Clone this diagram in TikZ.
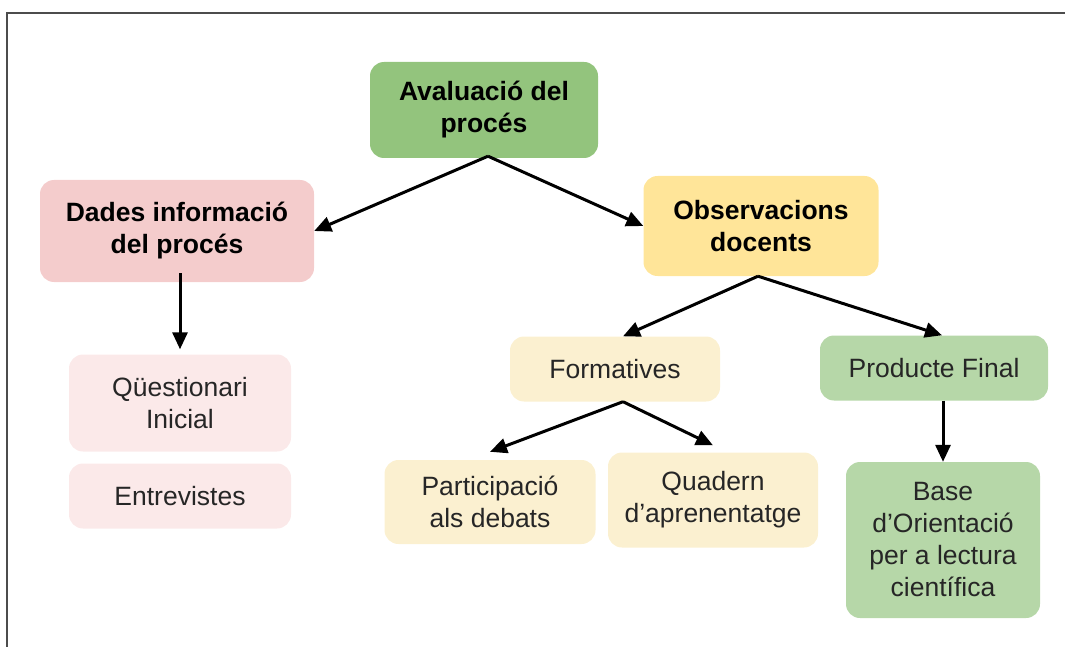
\documentclass[tikz,border=0pt]{standalone}
\usepackage{fontspec}
\setmainfont{Liberation Sans}
\usepackage{tikz}
\usetikzlibrary{arrows.meta}

\definecolor{verd}{HTML}{93C47D}
\definecolor{verdclar}{HTML}{B6D7A8}
\definecolor{rosa}{HTML}{F4CCCC}
\definecolor{rosaclar}{HTML}{FBE9E9}
\definecolor{groc}{HTML}{FFE599}
\definecolor{grocclar}{HTML}{FBF0D0}

\begin{document}
\begin{tikzpicture}[x=1pt, y=-1pt]

\tikzstyle{every node} = [rectangle, rounded corners=14pt, align=center, inner sep=0pt, text=black!85]
\tikzstyle{titol} = [font=\fontsize{26.5}{32}\selectfont\bfseries, text=black]
\tikzstyle{cos} = [font=\fontsize{26.5}{32}\selectfont]
\tikzstyle{fletxa} = [-{Triangle[length=17pt,width=15pt]}, line width=3pt]

\useasboundingbox (0,0) rectangle (1065,647);
\draw[line width=2pt, black!70] (7,647) -- (7,13) -- (1065,13);

\node[titol, fill=verd, minimum width=228pt, minimum height=96pt] (a) at (484,110) {Avaluació del\\procés};

\node[titol, fill=rosa, minimum width=274pt, minimum height=102pt] (b) at (177,231) {Dades informació\\del procés};
\node[titol, fill=groc, minimum width=235pt, minimum height=100pt] (c) at (761,226) {Observacions\\docents};

\node[cos, fill=rosaclar, minimum width=222pt, minimum height=97pt] (d) at (180,403) {Qüestionari\\Inicial};
\node[cos, fill=rosaclar, minimum width=222pt, minimum height=65pt] (k) at (180,496) {Entrevistes};

\node[cos, fill=grocclar, minimum width=210pt, minimum height=65pt] (e) at (615,369) {Formatives};
\node[cos, fill=verdclar, minimum width=228pt, minimum height=65pt] (f) at (934,368) {Producte Final};

\node[cos, fill=grocclar, minimum width=211pt, minimum height=84pt] (g) at (490,502) {Participació\\als debats};
\node[cos, fill=grocclar, minimum width=210pt, minimum height=95pt] (h) at (713,500) {Quadern\\d’aprenentatge};
\node[cos, fill=verdclar, minimum width=194pt, minimum height=156pt] (i) at (943,540) {Base\\d’Orientació\\per a lectura\\científica};

\draw[fletxa] ([xshift=4pt,yshift=2pt]a.south) -- (b.east);
\draw[fletxa] ([xshift=4pt,yshift=2pt]a.south) -- (c.west);
\draw[fletxa] ([xshift=3pt,yshift=9pt]b.south) -- ([yshift=5pt]d.north);

\draw[fletxa] ([xshift=-3pt]c.south) -- ([xshift=8pt]e.north);
\draw[fletxa] ([xshift=-3pt]c.south) -- ([xshift=8pt]f.north);

\draw[fletxa] ([xshift=8pt]e.south) -- ([yshift=8pt]g.north);
\draw[fletxa] ([xshift=8pt]e.south) -- ([yshift=7pt]h.north);
\draw[fletxa] (f.south -| i.north) -- (i.north);

\end{tikzpicture}
\end{document}
